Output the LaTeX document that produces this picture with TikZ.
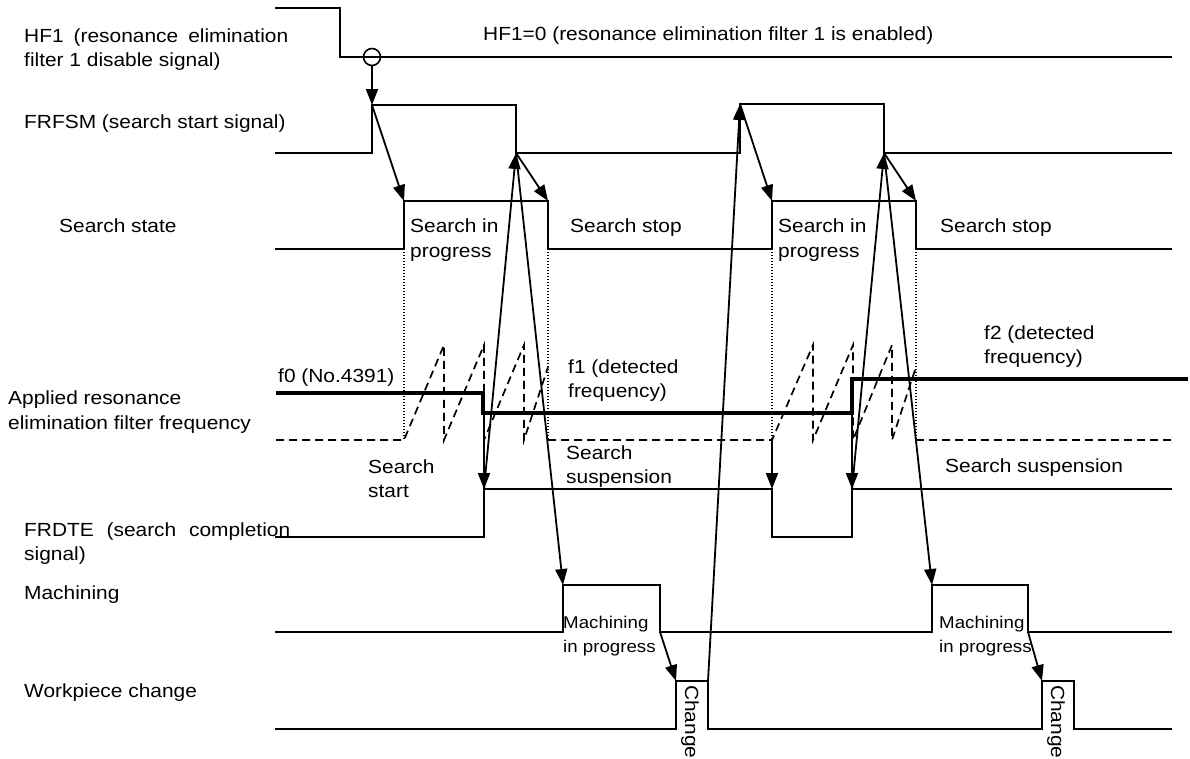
\documentclass[tikz,border=0pt]{standalone}
\usepackage{fontspec}
\setmainfont[FakeStretch=1.1]{Liberation Sans}
\usetikzlibrary{arrows.meta}
\begin{document}
\begin{tikzpicture}[x=1pt,y=-1pt,
 sig/.style={line width=2pt, line join=miter},
 thk/.style={line width=4.5pt},
 dsh/.style={line width=1.7pt, dash pattern=on 8pt off 5pt},
 dotl/.style={line width=1.2pt, dash pattern=on 1.2pt off 1.8pt},
 arr/.style={line width=1.8pt, -{Triangle[length=16pt,width=12pt]}},
 lbl/.style={anchor=base west, inner sep=0pt, font=\fontsize{19}{23}\selectfont},
 sml/.style={anchor=base west, inner sep=0pt, font=\fontsize{17}{21}\selectfont},
]
\useasboundingbox (0,0) rectangle (1190,758);

% ---- labels on the left ----
\node[lbl] (hf1a) at (24,42) {\makebox[264pt][s]{HF1 (resonance elimination}};
\node[lbl] (hf1b) at (24,66) {filter 1 disable signal)};
\node[lbl] (frfsm) at (24,128) {FRFSM (search start signal)};
\node[lbl] (sstate) at (59,232) {Search state};
\node[lbl] (appa) at (8,404) {Applied resonance};
\node[lbl] (appb) at (8,429) {elimination filter frequency};
\node[lbl] (frdtea) at (24,536) {\makebox[266pt][s]{FRDTE (search completion}};
\node[lbl] (frdteb) at (24,560) {signal)};
\node[lbl] (mach) at (24,599) {Machining};
\node[lbl] (work) at (24,697) {Workpiece change};

% ---- in-diagram labels ----
\node[lbl] (hf0) at (483,40) {HF1=0 (resonance elimination filter 1 is enabled)};
\node[lbl] (sip1a) at (410,232) {Search in};
\node[lbl] (sip1b) at (410,257) {progress};
\node[lbl] (sstop1) at (570,232) {Search stop};
\node[lbl] (sip2a) at (778,232) {Search in};
\node[lbl] (sip2b) at (778,257) {progress};
\node[lbl] (sstop2) at (940,232) {Search stop};
\node[lbl] (f0) at (278,382) {f0 (No.4391)};
\node[lbl] (f1a) at (568,373) {f1 (detected};
\node[lbl] (f1b) at (568,397) {frequency)};
\node[lbl] (f2a) at (984,339) {f2 (detected};
\node[lbl] (f2b) at (984,363) {frequency)};
\node[lbl] (sstart1) at (368,473) {Search};
\node[lbl] (sstart2) at (368,497) {start};
\node[lbl] (susp1a) at (566,459) {Search};
\node[lbl] (susp1b) at (566,483) {suspension};
\node[lbl] (susp2) at (945,472) {Search suspension};
\node[sml] (mip1a) at (563,628) {Machining};
\node[sml] (mip1b) at (563,652) {in progress};
\node[sml] (mip2a) at (939,628) {Machining};
\node[sml] (mip2b) at (939,652) {in progress};
\node[lbl, anchor=base west, rotate=-90] (chg1) at (685,685) {Change};
\node[lbl, anchor=base west, rotate=-90] (chg2) at (1051,685) {Change};

% ---- key coordinates ----
\coordinate (hfc) at (372,57);
\coordinate (fsR1) at (372,105);
\coordinate (fsF1) at (516,153);
\coordinate (fsR2) at (740,104);
\coordinate (fsF2) at (884,153);
\coordinate (ssR1) at (404,201);
\coordinate (ssF1) at (548,201);
\coordinate (ssR2) at (772,201);
\coordinate (ssF2) at (916,201);
\coordinate (dtR1) at (484,489);
\coordinate (dtF2) at (772,489);
\coordinate (dtR2) at (852,489);
\coordinate (mR1) at (563,585);
\coordinate (mF1) at (660,632);
\coordinate (mR2) at (932,585);
\coordinate (mF2) at (1028,632);
\coordinate (wR1) at (676,681);
\coordinate (wF1) at (708,681);
\coordinate (wR2) at (1042,681);
\coordinate (st1) at (484,413);
\coordinate (st2) at (772,440);
\coordinate (st3) at (852,413);

% ---- HF1 ----
\draw[sig] (275,8) -- (340,8) -- (340,57) -- (1172,57);
\node[draw, circle, line width=1.6pt, minimum size=17pt, inner sep=0pt, fill=none] (hfo) at (hfc) {};
\draw[arr] (hfo.south) -- (fsR1);

% ---- FRFSM ----
\draw[sig] (275,153) -- (372,153) -- (fsR1) -- (516,105) -- (fsF1) -- (740,153) -- (fsR2) -- (884,104) -- (fsF2) -- (1172,153);

% ---- Search state ----
\draw[sig] (275,249) -- (404,249) -- (ssR1) -- (ssF1) -- (548,249) -- (772,249) -- (ssR2) -- (ssF2) -- (916,249) -- (1172,249);
\draw[dotl] (404,249) -- (404,440);
\draw[dotl] (548,249) -- (548,440);
\draw[dotl] (772,249) -- (772,440);
\draw[dotl] (916,249) -- (916,440);

% ---- frequency ----
\draw[thk] (276,393) -- (483,393) -- (483,413) -- (852,413) -- (852,379) -- (1188,379);
\draw[dsh] (276,440) -- (404,440) -- (444,345) -- (444,440) -- (484,345) -- (484,440) -- (524,345) -- (524,440) -- (548,367);
\draw[dsh] (548,440) -- (772,440) -- (813,345) -- (813,440) -- (853,345) -- (853,440) -- (892,345) -- (892,440) -- (916,367);
\draw[dsh] (916,440) -- (1172,440);

% ---- FRDTE ----
\draw[sig] (275,537) -- (484,537) -- (dtR1) -- (dtF2) -- (772,537) -- (852,537) -- (dtR2) -- (1172,489);

% ---- Machining ----
\draw[sig] (275,632) -- (563,632) -- (mR1) -- (660,585) -- (mF1) -- (932,632) -- (mR2) -- (1028,585) -- (mF2) -- (1172,632);

% ---- Workpiece change ----
\draw[sig] (275,729) -- (676,729) -- (wR1) -- (wF1) -- (708,729) -- (1042,729) -- (wR2) -- (1074,681) -- (1074,729) -- (1172,729);

% ---- causal arrows ----
\draw[arr] (fsR1) -- (ssR1);
\draw[arr] (fsF1) -- (ssF1);
\draw[arr] (fsR2) -- (ssR2);
\draw[arr] (fsF2) -- (ssF2);
\draw[arr] (st1) -- (dtR1);
\draw[arr] (st2) -- (dtF2);
\draw[arr] (st3) -- (dtR2);
\draw[arr] (dtR1) -- (fsF1);
\draw[arr] (fsF1) -- (mR1);
\draw[arr] (dtR2) -- (fsF2);
\draw[arr] (fsF2) -- (mR2);
\draw[arr] (mF1) -- (wR1);
\draw[arr] (mF2) -- (wR2);
\draw[arr] (wF1) -- (fsR2);
\end{tikzpicture}
\end{document}
